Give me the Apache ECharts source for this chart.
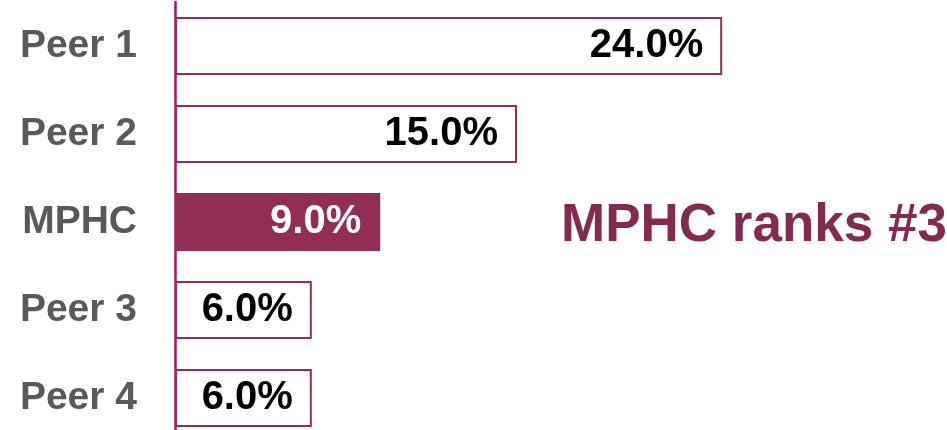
<!DOCTYPE html>
<html>
<head>
<meta charset="utf-8">
<script src="https://cdn.jsdelivr.net/npm/echarts@6/dist/echarts.min.js"></script>
<style>
  html, body { margin: 0; padding: 0; background: #fff; }
  #box { width: 947px; height: 430px; }
</style>
</head>
<body>
<div id="box"></div>
<script>
// 数据
const categories = ['Peer 1', 'Peer 2', 'MPHC', 'Peer 3', 'Peer 4'];
const values = [24.0, 15.0, 9.0, 6.0, 6.0];
const highlight = 'MPHC';
const note = 'MPHC ranks #3';

const FONT = '"Liberation Sans", Arial, sans-serif';
const WINE = '#922E55';

const myChart = echarts.init(document.getElementById('box'));

const option = {
  animation: false,
  grid: { left: 175, top: 2, width: 684, height: 440, outerBoundsMode: 'none', containLabel: false },
  xAxis: {
    type: 'value',
    min: 0,
    max: 30,
    show: false
  },
  yAxis: {
    type: 'category',
    data: categories,
    inverse: true,
    axisTick: { show: false },
    axisLine: { lineStyle: { color: '#A3136F', width: 2.5 } },
    axisLabel: {
      color: '#595959',
      fontFamily: FONT,
      fontWeight: 'bold',
      fontSize: 39,
      margin: 38
    }
  },
  series: [
    {
      type: 'bar',
      barCategoryGap: '34%',
      itemStyle: {
        color: (p) => categories[p.dataIndex] === highlight ? WINE : '#fff',
        borderColor: '#8B2F5E',
        borderWidth: 2
      },
      label: {
        show: true,
        position: 'insideRight',
        distance: 19,
        fontFamily: FONT,
        fontWeight: 'bold',
        fontSize: 40,
        formatter: (p) => p.value.toFixed(1) + '%',
        color: '#000'
      },
      // MPHC 的数值标签为白色
      data: values.map((v, i) => categories[i] === highlight
        ? { value: v, label: { color: '#fff' } }
        : v)
    }
  ],
  graphic: [
    {
      type: 'text',
      left: 561,
      top: 200,
      style: {
        text: note,
        fill: '#832A53',
        font: 'bold 53px ' + FONT
      }
    }
  ]
};

myChart.setOption(option);
</script>
</body>
</html>
